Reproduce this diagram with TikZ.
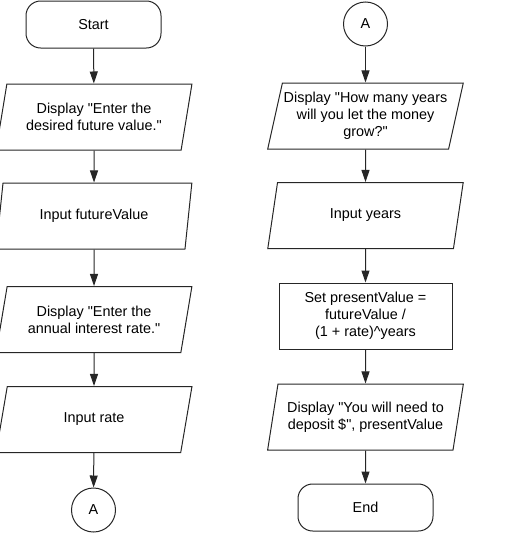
\documentclass[tikz,border=0pt]{standalone}
\usepackage{fontspec}
\setmainfont{Liberation Sans}[Ligatures=TeXOff]
\usetikzlibrary{shapes.geometric,arrows.meta}

\tikzset{every picture/.style={line width=0.75pt}}
\tikzset{
  term/.style={draw=black!85, rectangle, rounded corners=11pt, minimum width=101.25pt, minimum height=35.25pt, font=\flowfont, align=center},
  io/.style={draw=black!85, trapezium, trapezium left angle=73, trapezium right angle=107, trapezium stretches=true, minimum width=147pt, minimum height=49.5pt, inner sep=0pt, font=\flowfont, align=center},
  proc/.style={draw=black!85, rectangle, minimum width=129.75pt, minimum height=49.5pt, inner sep=0pt, font=\flowfont, align=center},
  conn/.style={draw=black!85, circle, minimum size=33pt, inner sep=0pt, font=\flowfont},
  flow/.style={draw=black!85, -{Triangle[length=9pt,width=6pt]}},
}
\newcommand{\flowfont}{\fontsize{10.8pt}{12.7pt}\selectfont}

\begin{document}
\begin{tikzpicture}[x=0.75pt,y=0.75pt,yscale=-1,xscale=1]
%set diagram left start at 0, and has height of 553
\useasboundingbox (0,0) rectangle (510,553);

%Flowchart: Terminator
\node [term] (start) at (93.5,24.5) {Start};
%Flowchart: Data
\node [io] (askfv) at (94,117) {Display "Enter the\\desired future value."};
%Flowchart: Data
\node [io] (infv) at (94,216) {Input futureValue};
%Flowchart: Data
\node [io] (askrate) at (94,319.5) {Display "Enter the\\annual interest rate."};
%Flowchart: Data
\node [io] (inrate) at (94,419.5) {Input rate};
%Flowchart: Connector
\node [conn] (outA) at (93.5,510) {A};

%Flowchart: Connector
\node [conn] (inA) at (365.5,24) {A};
%Flowchart: Data
\node [io] (askyrs) at (365.5,116) {Display "How many years\\will you let the money\\grow?"};
%Flowchart: Data
\node [io] (inyrs) at (365.5,215.5) {Input years};
%Flowchart: Process
\node [proc] (calc) at (365.5,316) {Set presentValue =\\futureValue /\\(1 + rate)\textasciicircum years};
%Flowchart: Data
\node [io] (showpv) at (365.5,417) {Display "You will need to\\deposit \$", presentValue};
%Flowchart: Terminator
\node [term] (stop) at (365.5,507.5) {End};

%Straight Lines
\draw [flow] (start) -- (askfv);
\draw [flow] (askfv) -- (infv);
\draw [flow] (infv) -- (askrate);
\draw [flow] (askrate) -- (inrate);
\draw [flow] (inrate) -- (outA);
%Straight Lines
\draw [flow] (inA) -- (askyrs);
\draw [flow] (askyrs) -- (inyrs);
\draw [flow] (inyrs) -- (calc);
\draw [flow] (calc) -- (showpv);
\draw [flow] (showpv) -- (stop);

\end{tikzpicture}
\end{document}
